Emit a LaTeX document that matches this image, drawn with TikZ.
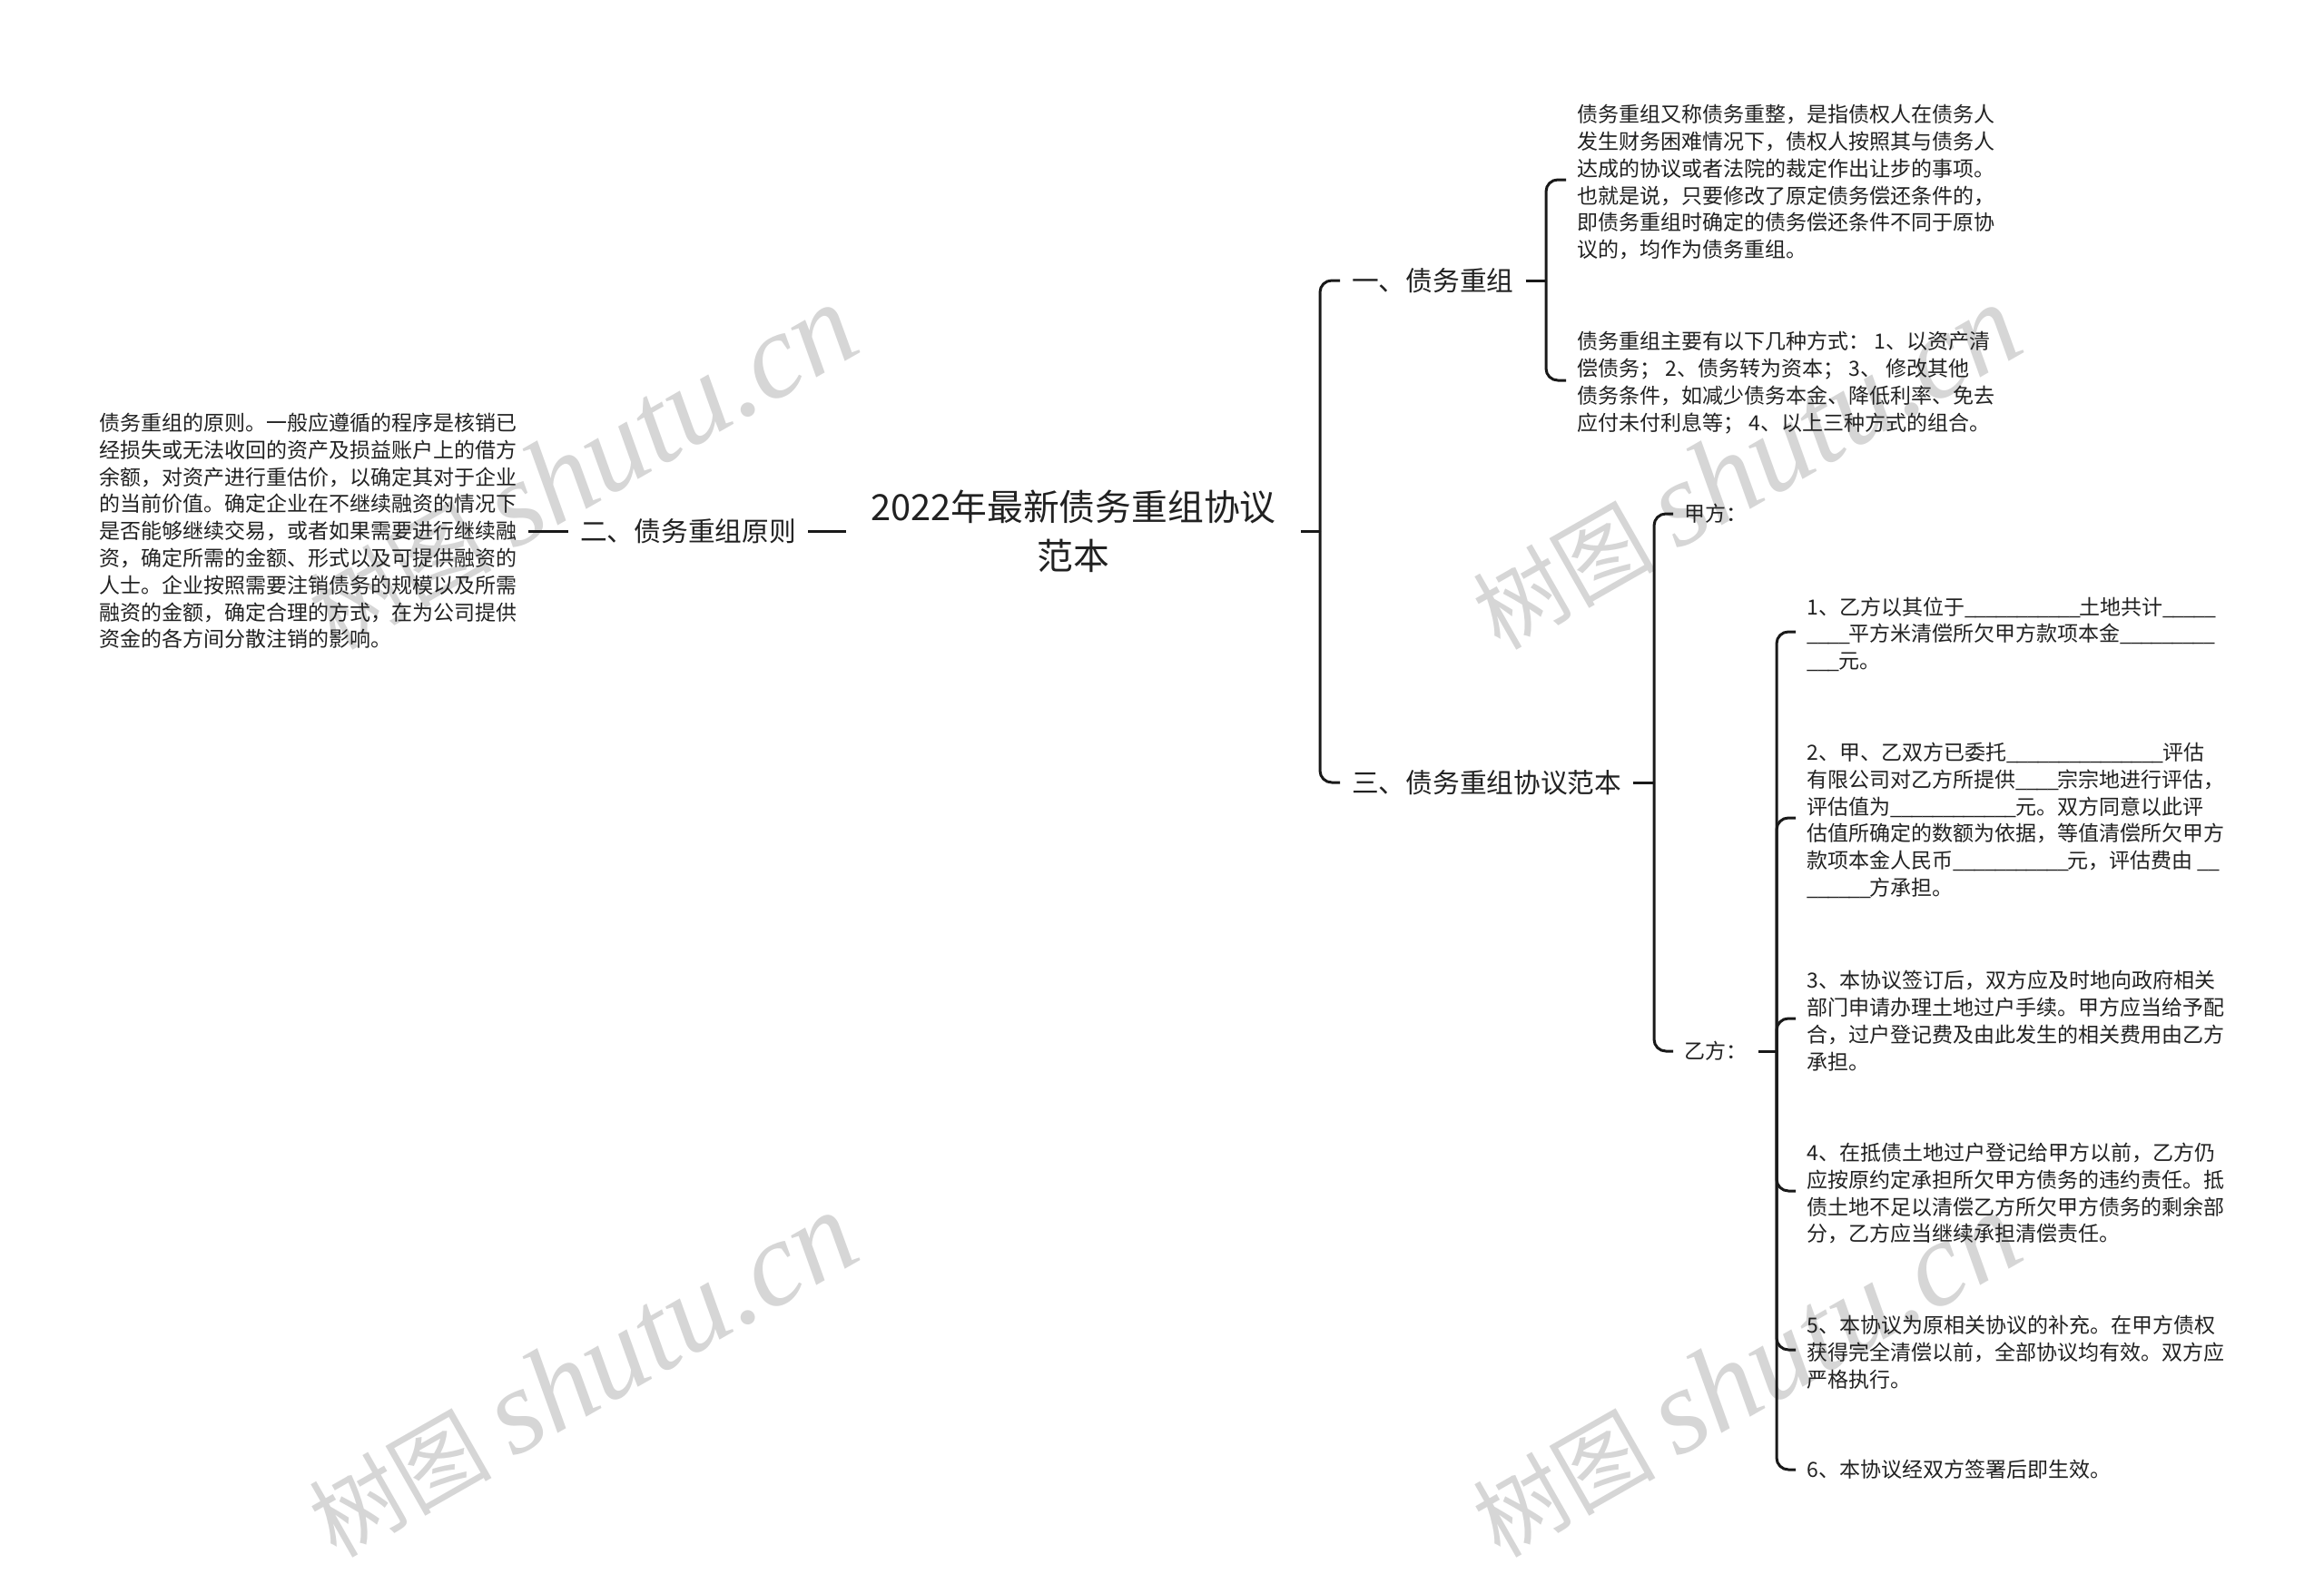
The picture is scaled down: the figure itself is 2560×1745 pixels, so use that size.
\documentclass[tikz,border=0pt]{standalone}
\usepackage{fontspec}
\usepackage{xcolor}
\setmainfont{Noto Sans CJK SC}
\newfontfamily\markfont{Liberation Serif}[ItalicFont=* Italic]
\definecolor{inkLine}{rgb}{0.10,0.10,0.10}
\definecolor{inkText}{rgb}{0.13,0.13,0.13}
\definecolor{markGray}{rgb}{0.84,0.84,0.84}
% full-width punctuation
\newcommand{\cma}{^^^^ff0c}
\newcommand{\cln}{^^^^ff1a}
\newcommand{\smc}{^^^^ff1b}
% text sits a little below the end of its connector
\newcommand{\toproom}{\rule{0pt}{25pt}}
% run of underscores, set a little tighter than the font does
\newcommand{\blank}[1]{\foreach \k in {1,...,#1}{\_\kern-1.4pt}}

\tikzset{
  link/.style={draw=inkLine,line width=3pt},
  elbow/.style={link,rounded corners=13pt},
  topic/.style={text=inkText,inner ysep=0pt,inner xsep=13pt,font=\fontsize{29.7}{40}\selectfont},
  leaf/.style={text=inkText,align=left,inner ysep=0pt,inner xsep=12.5pt,font=\fontsize{23}{29.8}\selectfont},
  watermark/.style={text=markGray,rotate=29.7,inner sep=0pt}
}

\begin{document}
\begin{tikzpicture}[x=1pt,y=-1pt]

  % Page
  \useasboundingbox (0,0) rectangle (2560,1745);

  % Watermarks
  \foreach \mx/\my [count=\mi] in {0/0,1282/0,0/1000,1282/1000} {
    \node[watermark] (mark\mi) at (641+\mx,515+\my)
      {\fontsize{101}{101}\selectfont 树图 \markfont\fontsize{133}{133}\selectfont\itshape shutu.cn};
  }

  % Root
  \node[text=inkText,align=center,inner ysep=0pt,inner xsep=27pt,font=\fontsize{39.8}{54}\selectfont]
    (root) at (1182.5,585) {2022年最新债务重组协议\\范本};

  % Left side
  \node[topic,anchor=east] (topicB) at (890,585) {二、债务重组原则};
  \node[leaf,anchor=east] (leafB) at (582,585) {债务重组的原则。一般应遵循的程序是核销已\\
    经损失或无法收回的资产及损益账户上的借方\\
    余额\cma{}对资产进行重估价\cma{}以确定其对于企业\\
    的当前价值。确定企业在不继续融资的情况下\\
    是否能够继续交易\cma{}或者如果需要进行继续融\\
    资\cma{}确定所需的金额、形式以及可提供融资的\\
    人士。企业按照需要注销债务的规模以及所需\\
    融资的金额\cma{}确定合理的方式\cma{}在为公司提供\\
    资金的各方间分散注销的影响。};

  % Right side, first level
  \node[topic,anchor=west] (topicA) at (1476,309) {一、债务重组};
  \node[topic,anchor=west] (topicC) at (1476,862) {三、债务重组协议范本};

  \node[leaf,anchor=west] (leafA) at (1725,198) {\toproom 债务重组又称债务重整\cma{}是指债权人在债务人\\
    发生财务困难情况下\cma{}债权人按照其与债务人\\
    达成的协议或者法院的裁定作出让步的事项。\\
    也就是说\cma{}只要修改了原定债务偿还条件的\cma\\
    即债务重组时确定的债务偿还条件不同于原协\\
    议的\cma{}均作为债务重组。};
  \node[leaf,anchor=west] (leafC) at (1725,419) {\toproom 债务重组主要有以下几种方式\cln{} 1、以资产清\\
    偿债务\smc{} 2、债务转为资本\smc{} 3、 修改其他\\
    债务条件\cma{}如减少债务本金、降低利率、免去\\
    应付未付利息等\smc{} 4、以上三种方式的组合。};

  % Parties
  \node[leaf,anchor=west] (partyA) at (1843,566) {甲方\cln};
  \node[leaf,anchor=west] (partyB) at (1843,1158) {乙方\cln};

  % Clauses
  \node[leaf,anchor=west] (itemA) at (1978,696) {\toproom 1、乙方以其位于\blank{11}土地共计\blank{5}\\
    \blank{4}平方米清偿所欠甲方款项本金\blank{9}\\
    \blank{3}元。};
  \node[leaf,anchor=west] (itemB) at (1978,901) {\toproom 2、甲、乙双方已委托\blank{15}评估\\
    有限公司对乙方所提供\blank{4}宗宗地进行评估\cma\\
    评估值为\blank{12}元。双方同意以此评\\
    估值所确定的数额为依据\cma{}等值清偿所欠甲方\\
    款项本金人民币\blank{11}元\cma{}评估费由 \blank{2}\\
    \blank{6}方承担。};
  \node[leaf,anchor=west] (itemC) at (1978,1122) {\toproom 3、本协议签订后\cma{}双方应及时地向政府相关\\
    部门申请办理土地过户手续。甲方应当给予配\\
    合\cma{}过户登记费及由此发生的相关费用由乙方\\
    承担。};
  \node[leaf,anchor=west] (itemD) at (1978,1312) {\toproom 4、在抵债土地过户登记给甲方以前\cma{}乙方仍\\
    应按原约定承担所欠甲方债务的违约责任。抵\\
    债土地不足以清偿乙方所欠甲方债务的剩余部\\
    分\cma{}乙方应当继续承担清偿责任。};
  \node[leaf,anchor=west] (itemE) at (1978,1487) {\toproom 5、本协议为原相关协议的补充。在甲方债权\\
    获得完全清偿以前\cma{}全部协议均有效。双方应\\
    严格执行。};
  \node[leaf,anchor=west] (itemF) at (1978,1619) {6、本协议经双方签署后即生效。};

  % Junctions on the trunks
  \coordinate (trunkRoot) at (1454,585);
  \coordinate (trunkA) at (1703,309);
  \coordinate (trunkC) at (1822,862);
  \coordinate (trunkParty) at (1957,1158);

  % Connectors
  \draw[link] (leafB.east) -- (topicB.west);
  \draw[link] (topicB.east) -- (root.west);

  \draw[link] (root.east) -- (trunkRoot);
  \foreach \kid in {topicA,topicC}
    \draw[elbow] (trunkRoot) |- (\kid.west);

  \draw[link] (topicA.east) -- (trunkA);
  \foreach \kid in {leafA,leafC}
    \draw[elbow] (trunkA) |- (\kid.west);

  \draw[link] (topicC.east) -- (trunkC);
  \foreach \kid in {partyA,partyB}
    \draw[elbow] (trunkC) |- (\kid.west);

  \draw[link] (partyB.east) -- (trunkParty);
  \foreach \kid in {itemA,itemB,itemC,itemD,itemE,itemF}
    \draw[elbow] (trunkParty) |- (\kid.west);

\end{tikzpicture}
\end{document}
